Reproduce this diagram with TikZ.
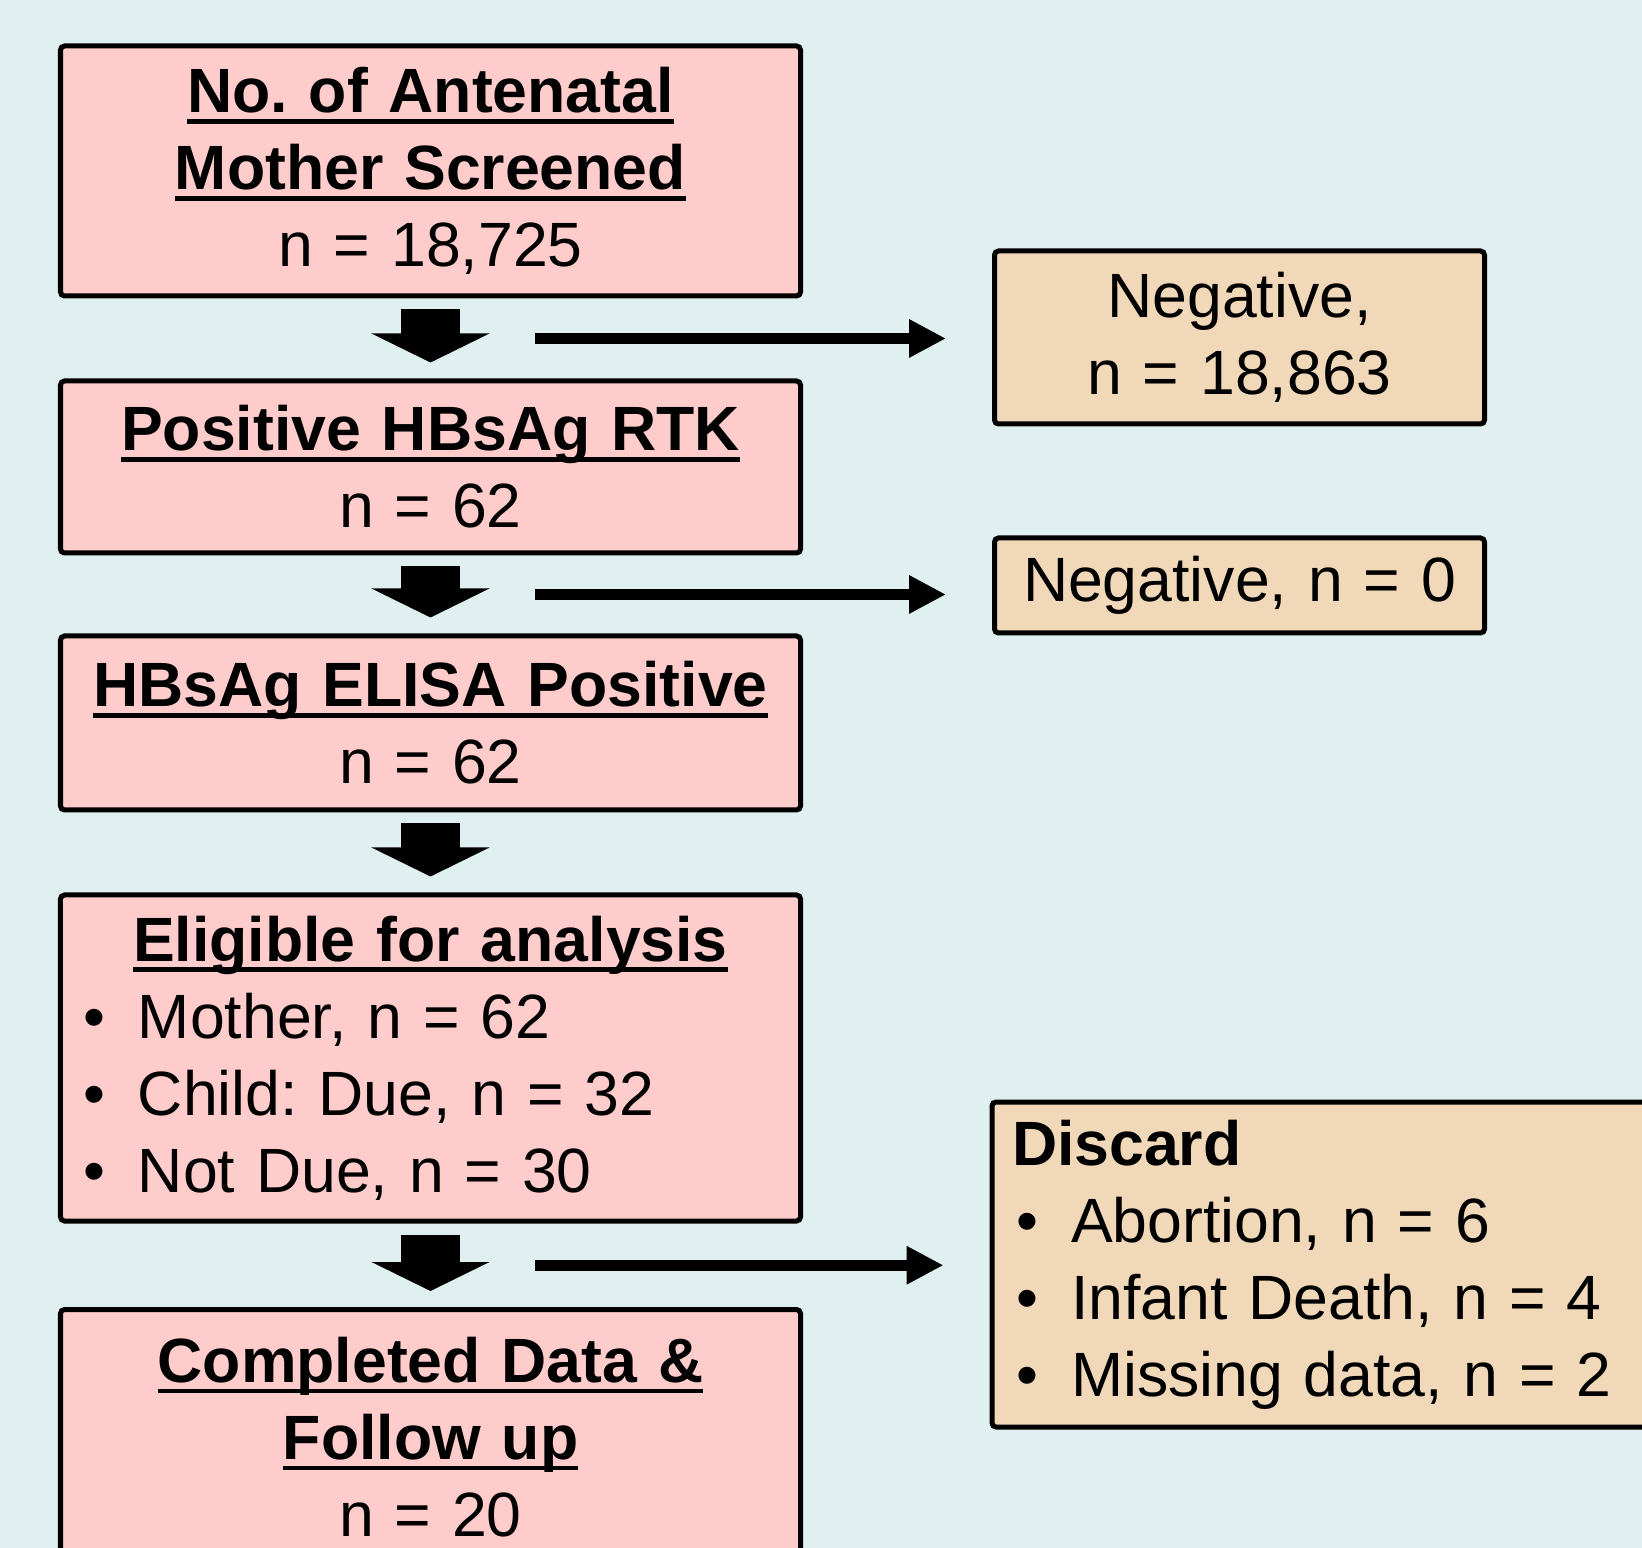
\documentclass[tikz,border=0pt]{standalone}
\usepackage{fontspec}
\setmainfont{Liberation Sans}
\usetikzlibrary{arrows.meta,calc}

\definecolor{bgcyan}{RGB}{224,239,240}
\definecolor{boxpink}{RGB}{255,204,204}
\definecolor{boxtan}{RGB}{240,216,184}

% bold title with a thick underline
\newcommand{\ultitle}[1]{\leavevmode\setbox0=\hbox{\bfseries #1}\rlap{\vrule height -0.1em depth 0.175em width \wd0}\box0}
\newcommand{\bitem}{\makebox[0.55cm][l]{\textbullet}}

\begin{document}
\frenchspacing
\begin{tikzpicture}[
    flowbox/.style={draw, line width=0.05cm, rounded corners=0.04cm,
        font=\fontsize{17.8pt}{21.9pt}\selectfont, inner ysep=0pt},
    pinkbox/.style={flowbox, fill=boxpink, minimum width=7.4cm, inner xsep=0.2cm,
        text width=7.0cm, align=center},
    tanbox/.style={flowbox, fill=boxtan, minimum width=4.9cm, inner xsep=0.2cm,
        text width=4.5cm, align=center},
    downarrow/.style={line width=0.59cm, -{Triangle[length=0.29cm,width=1.17cm]},
        shorten <=0.11cm, shorten >=0.16cm},
    sidearrow/.style={line width=0.11cm, -{Triangle[length=0.37cm,width=0.36cm]},
        shorten >=0.46cm}
]
\useasboundingbox (0,0) rectangle (16.42,-15.48);
\fill[bgcyan] (0,0) rectangle (16.42,-15.48);
\clip (0,0) rectangle (16.42,-15.48);

\node[pinkbox, minimum height=2.50cm] (screened) at (4.305,-1.71)
    {\ultitle{No. of Antenatal}\\ \ultitle{Mother Screened}\\ n = 18,725};
\node[pinkbox, minimum height=1.72cm] (rtk) at (4.305,-4.67)
    {\ultitle{Positive HBsAg RTK}\\ n = 62};
\node[pinkbox, minimum height=1.74cm] (elisa) at (4.305,-7.23)
    {\ultitle{HBsAg ELISA Positive}\\ n = 62};
\node[pinkbox, minimum height=3.26cm, inner xsep=0.225cm, text width=6.95cm, align=left] (eligible) at (4.305,-10.58)
    {\makebox[\linewidth]{\ultitle{Eligible for analysis}}\\
     \bitem Mother, n = 62\\
     \bitem Child: Due, n = 32\\
     \bitem Not Due, n = 30};
\node[pinkbox, minimum height=2.55cm] (completed) at (4.305,-14.37)
    {\ultitle{Completed Data \&}\\ \ultitle{Follow up}\\ n = 20};

\node[tanbox, minimum height=1.73cm] (negone) at (12.395,-3.375) {Negative,\\ n = 18,863};
\node[tanbox, minimum height=0.95cm] (negtwo) at (12.395,-5.855) {Negative, n = 0};
\node[tanbox, minimum width=6.68cm, text width=6.28cm, minimum height=3.25cm, align=left] (discard) at (13.26,-12.645)
    {\textbf{Discard}\\
     \hspace*{0.04cm}\bitem Abortion, n = 6\\
     \hspace*{0.04cm}\bitem Infant Death, n = 4\\
     \hspace*{0.04cm}\bitem Missing data, n = 2};

\draw[downarrow] (screened) -- (rtk);
\draw[downarrow] (rtk) -- (elisa);
\draw[downarrow] (elisa) -- (eligible);
\draw[downarrow] (eligible) -- (completed);

\coordinate (gap1) at ($(screened.south)!0.5!(rtk.north)$);
\coordinate (gap2) at ($(rtk.south)!0.5!(elisa.north)$);
\coordinate (gap3) at ($(eligible.south)!0.5!(completed.north)$);

\draw[sidearrow] ([xshift=1.045cm]gap1) -- (gap1 -| negone.west);
\draw[sidearrow] ([xshift=1.045cm]gap2) -- (gap2 -| negtwo.west);
\draw[sidearrow] ([xshift=1.045cm]gap3) -- (gap3 -| discard.west);
\end{tikzpicture}
\end{document}
